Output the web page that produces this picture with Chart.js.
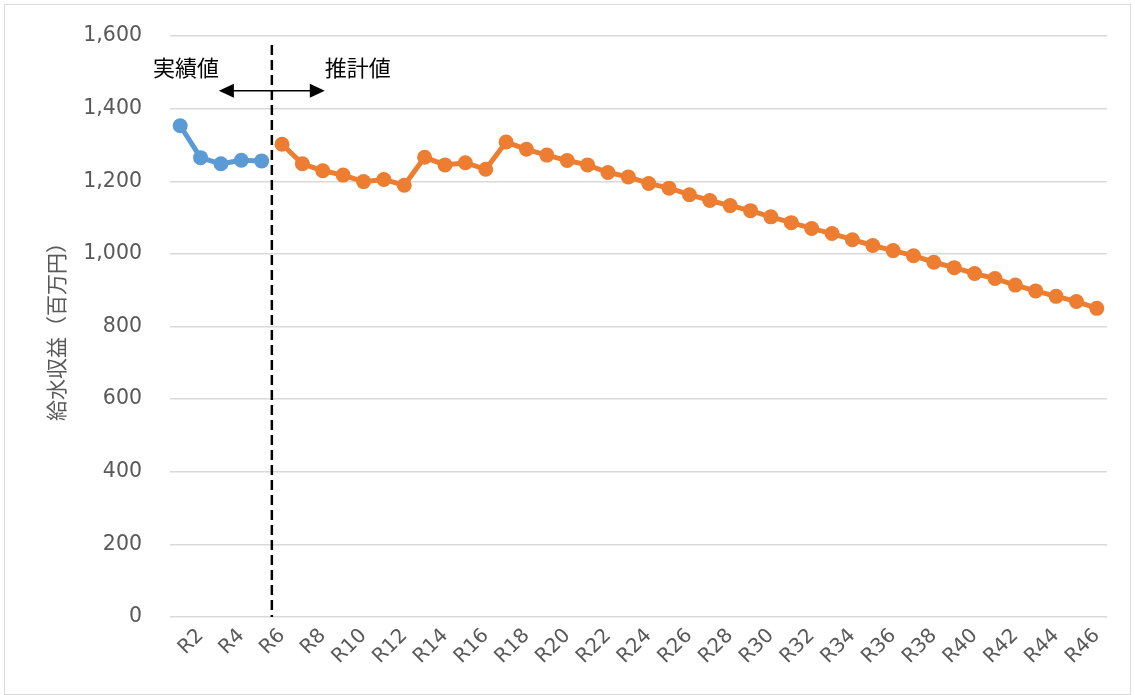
<!DOCTYPE html>
<html>
<head>
<meta charset="utf-8">
<script src="https://cdn.jsdelivr.net/npm/chart.js@4.4.0/dist/chart.umd.min.js"></script>
<style>
  html, body { margin: 0; padding: 0; background: #ffffff; }
  #wrap { position: relative; width: 1135px; height: 695px; }
</style>
</head>
<body>
<div id="wrap"><canvas id="c" width="1135" height="695"></canvas></div>
<script>
// 年度（令和）
const years = [
  'R1','R2','R3','R4','R5','R6','R7','R8','R9','R10',
  'R11','R12','R13','R14','R15','R16','R17','R18','R19','R20',
  'R21','R22','R23','R24','R25','R26','R27','R28','R29','R30',
  'R31','R32','R33','R34','R35','R36','R37','R38','R39','R40',
  'R41','R42','R43','R44','R45','R46'
];
// 給水収益 実績値（R1〜R5, 百万円）
const actualRevenue = [1353, 1265, 1248, 1258, 1256];
// 給水収益 推計値（R6〜R46, 百万円）
const forecastRevenue = [
  1302, 1248, 1229, 1217, 1199, 1205, 1189, 1266, 1245, 1251,
  1233, 1308, 1288, 1272, 1257, 1245, 1224, 1212, 1194, 1181,
  1163, 1147, 1133, 1119, 1102, 1086, 1070, 1056, 1039, 1023,
  1009, 995, 977, 962, 946, 932, 914, 898, 883, 869, 850
];
const yTicks = [0, 200, 400, 600, 800, 1000, 1200, 1400, 1600];
const actualLabel = '実績値';
const forecastLabel = '推計値';
const yTitle = '給水収益（百万円）';

const BLUE = '#5B9BD5';
const ORANGE = '#ED7D31';
const GRID = '#d9d9d9';
const TEXT = '#595959';
const LATIN = '"DejaVu Sans", Verdana, sans-serif';
const CJK = '"Noto Sans CJK JP", "Noto Sans", sans-serif';

// 実績・推計を同じ年度軸に並べる（該当しない年度は空欄）
const actualSeries = years.map((_, i) => i < actualRevenue.length ? actualRevenue[i] : null);
const forecastSeries = years.map((_, i) => {
  const k = i - actualRevenue.length;
  return k >= 0 && k < forecastRevenue.length ? forecastRevenue[k] : null;
});

// 実績と推計の境目の破線、矢印、区分ラベル
const splitPlugin = {
  id: 'splitMarker',
  afterDatasetsDraw(chart) {
    const { ctx, scales: { x, y } } = chart;
    const n = actualRevenue.length;
    const bx = (x.getPixelForValue(n - 1) + x.getPixelForValue(n)) / 2;
    const step = x.getPixelForValue(1) - x.getPixelForValue(0);
    ctx.save();
    // 破線
    ctx.strokeStyle = '#000';
    ctx.lineWidth = 2.5;
    ctx.setLineDash([10, 5]);
    ctx.beginPath();
    ctx.moveTo(bx, y.getPixelForValue(1575));
    ctx.lineTo(bx, y.getPixelForValue(0));
    ctx.stroke();
    ctx.setLineDash([]);
    // 両矢印
    const ay = y.getPixelForValue(1449);
    const x1 = bx - 2.6 * step, x2 = bx + 2.6 * step;
    const head = 15, half = 7;
    ctx.lineWidth = 1.5;
    ctx.beginPath();
    ctx.moveTo(x1 + head - 2, ay);
    ctx.lineTo(x2 - head + 2, ay);
    ctx.stroke();
    ctx.fillStyle = '#000';
    ctx.beginPath();
    ctx.moveTo(x1, ay); ctx.lineTo(x1 + head, ay - half); ctx.lineTo(x1 + head, ay + half); ctx.closePath();
    ctx.fill();
    ctx.beginPath();
    ctx.moveTo(x2, ay); ctx.lineTo(x2 - head, ay - half); ctx.lineTo(x2 - head, ay + half); ctx.closePath();
    ctx.fill();
    // 区分ラベル
    const ty = y.getPixelForValue(1512);
    ctx.font = '22px ' + CJK;
    ctx.textBaseline = 'middle';
    ctx.textAlign = 'right';
    ctx.fillText(actualLabel, x1, ty);
    ctx.textAlign = 'left';
    ctx.fillText(forecastLabel, x2, ty);
    ctx.restore();
  },
  afterDraw(chart) {
    const { ctx } = chart;
    ctx.save();
    ctx.strokeStyle = GRID;
    ctx.lineWidth = 1;
    ctx.strokeRect(4.5, 4.5, 1126, 690);
    ctx.restore();
  }
};

new Chart(document.getElementById('c'), {
  type: 'line',
  data: {
    labels: years,
    datasets: [
      {
        label: actualLabel,
        data: actualSeries,
        borderColor: BLUE,
        backgroundColor: BLUE,
        borderWidth: 5,
        pointRadius: 7.5,
        pointHoverRadius: 7.5,
        pointBorderWidth: 0,
        tension: 0,
        spanGaps: false
      },
      {
        label: forecastLabel,
        data: forecastSeries,
        borderColor: ORANGE,
        backgroundColor: ORANGE,
        borderWidth: 5,
        pointRadius: 7.5,
        pointHoverRadius: 7.5,
        pointBorderWidth: 0,
        tension: 0,
        spanGaps: false
      }
    ]
  },
  options: {
    responsive: false,
    animation: false,
    devicePixelRatio: 1,
    layout: { padding: { top: 36, right: 28, bottom: 0, left: 0 } },
    plugins: {
      legend: { display: false },
      tooltip: { enabled: false }
    },
    scales: {
      x: {
        type: 'category',
        offset: true,
        grid: { display: false, drawTicks: false },
        border: { display: false },
        ticks: {
          autoSkip: false,
          maxRotation: 45,
          minRotation: 45,
          padding: 7,
          color: TEXT,
          font: { family: LATIN, size: 20 },
          callback: (v, i) => (i % 2 === 1 ? years[i] : '')
        },
        afterFit(scale) { scale.height = 78; }
      },
      y: {
        min: 0,
        max: 1600,
        afterBuildTicks(scale) { scale.ticks = yTicks.map(v => ({ value: v })); },
        grid: { color: GRID, lineWidth: 1.5, drawTicks: false },
        border: { display: false },
        ticks: {
          padding: 28,
          color: TEXT,
          font: { family: LATIN, size: 20.5 },
          callback: v => v.toLocaleString('en-US')
        },
        title: {
          display: true,
          text: yTitle,
          color: TEXT,
          font: { family: CJK, size: 21 },
          padding: { top: 43, bottom: 0 }
        },
        afterFit(scale) {
          scale.width = 170;
          scale.paddingTop = 0;
          scale.paddingBottom = 0;
        }
      }
    }
  },
  plugins: [splitPlugin]
});
</script>
</body>
</html>
